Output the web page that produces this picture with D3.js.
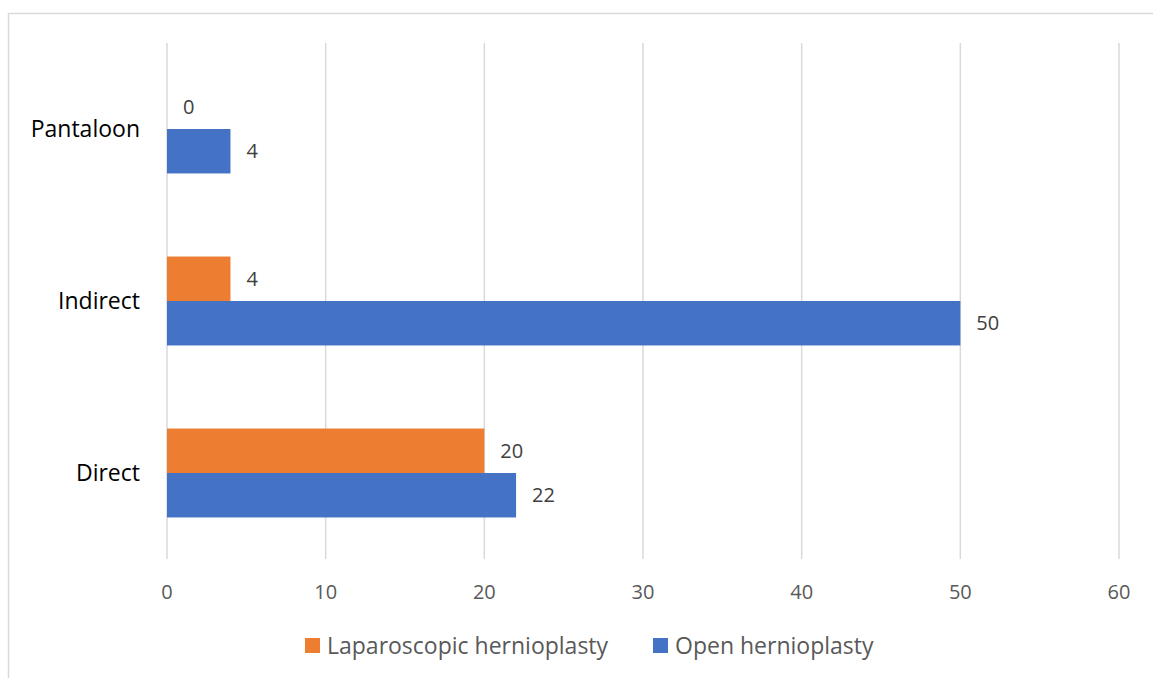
<!DOCTYPE html>
<html>
<head>
<meta charset="utf-8">
<script src="https://cdn.jsdelivr.net/npm/d3@7"></script>
<style>
  body { margin: 0; background: #fff; }
  text { font-family: "Open Sans", sans-serif; }
</style>
</head>
<body>
<div id="chart"></div>
<script>
const categories = ["Pantaloon", "Indirect", "Direct"];
const seriesNames = ["Laparoscopic hernioplasty", "Open hernioplasty"];
const laparoscopic = [0, 4, 20];
const open = [4, 50, 22];
const xTicks = [0, 10, 20, 30, 40, 50, 60];

const colors = { "Laparoscopic hernioplasty": "#ED7D31", "Open hernioplasty": "#4472C4" };
const W = 1153, H = 678;
const plot = { left: 167, right: 1119, top: 43, bottom: 559 };

const svg = d3.select("#chart").append("svg").attr("width", W).attr("height", H);

// outer chart border (runs off the bottom/right)
svg.append("rect")
  .attr("x", 8.5).attr("y", 13.5).attr("width", W + 20).attr("height", H + 20)
  .attr("fill", "none").attr("stroke", "#d9d9d9").attr("stroke-width", 1.5);

const x = d3.scaleLinear().domain([0, 60]).range([plot.left, plot.right]);
const y = d3.scaleBand().domain(categories).range([plot.top, plot.bottom])
  .paddingInner(0.483).paddingOuter(0.2415);
const ySub = d3.scaleBand().domain(seriesNames).range([0, y.bandwidth()]);

// gridlines
svg.append("g").selectAll("line").data(xTicks).join("line")
  .attr("x1", d => x(d)).attr("x2", d => x(d))
  .attr("y1", plot.top).attr("y2", plot.bottom)
  .attr("stroke", "#d9d9d9").attr("stroke-width", 1.5);

// x tick labels
svg.append("g").selectAll("text").data(xTicks).join("text")
  .attr("x", d => x(d)).attr("y", 599)
  .attr("text-anchor", "middle").attr("fill", "#595959").attr("font-size", 20)
  .text(d => d);

// category labels
svg.append("g").selectAll("text").data(categories).join("text")
  .attr("x", 140).attr("y", d => y(d) + y.bandwidth() / 2)
  .attr("dy", "0.35em")
  .attr("text-anchor", "end").attr("fill", "#000").attr("font-size", 23)
  .text(d => d);

const rows = [];
categories.forEach((c, i) => {
  rows.push({ cat: c, series: seriesNames[0], value: laparoscopic[i] });
  rows.push({ cat: c, series: seriesNames[1], value: open[i] });
});

svg.append("g").selectAll("rect").data(rows).join("rect")
  .attr("x", x(0))
  .attr("y", d => y(d.cat) + ySub(d.series))
  .attr("width", d => x(d.value) - x(0))
  .attr("height", ySub.bandwidth())
  .attr("fill", d => colors[d.series]);

svg.append("g").selectAll("text").data(rows).join("text")
  .attr("x", d => x(d.value) + 16)
  .attr("y", d => y(d.cat) + ySub(d.series) + ySub.bandwidth() / 2)
  .attr("dy", "0.35em")
  .attr("fill", "#404040").attr("font-size", 20)
  .text(d => d.value);

// legend
const legend = svg.append("g");
const legendX = [305, 653];
seriesNames.forEach((s, i) => {
  legend.append("rect").attr("x", legendX[i]).attr("y", 638).attr("width", 15).attr("height", 15)
    .attr("fill", colors[s]);
  legend.append("text").attr("x", legendX[i] + 22).attr("y", 646).attr("dy", "0.35em")
    .attr("fill", "#595959").attr("font-size", 23).text(s);
});
</script>
</body>
</html>
